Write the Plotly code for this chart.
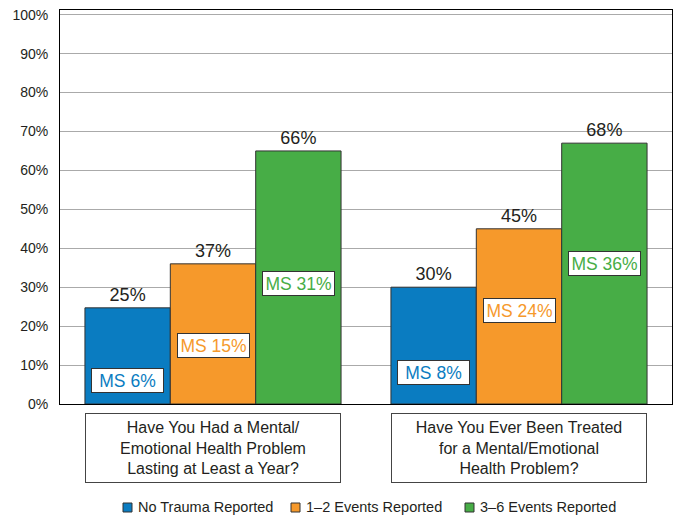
import plotly.graph_objects as go

categories = ["Have You Had a Mental/<br>Emotional Health Problem<br>Lasting at Least a Year?",
              "Have You Ever Been Treated<br>for a Mental/Emotional<br>Health Problem?"]
series_names = ["No Trauma Reported", "1\u20132 Events Reported", "3\u20136 Events Reported"]
colors = ["#0A7CC1", "#F6992B", "#47AD46"]

no_trauma = [24.7, 30.0]
events_1_2 = [36.0, 45.0]
events_3_6 = [65.0, 67.0]
values = [no_trauma, events_1_2, events_3_6]

labels_no_trauma = ["25%", "30%"]
labels_1_2 = ["37%", "45%"]
labels_3_6 = ["66%", "68%"]
labels = [labels_no_trauma, labels_1_2, labels_3_6]

ms_no_trauma = [6, 8]
ms_1_2 = [15, 24]
ms_3_6 = [31, 36]
ms_values = [ms_no_trauma, ms_1_2, ms_3_6]

y_ticks = list(range(0, 101, 10))
y_tick_text = [f"{v}%" for v in y_ticks]

FONT = "Liberation Sans, Arial, sans-serif"
TXT = "#231F20"

fig = go.Figure()
for i in range(3):
    fig.add_trace(go.Bar(
        x=categories, y=values[i], name=series_names[i],
        marker=dict(color=colors[i], line=dict(color="#333333", width=1)),
        text=labels[i], textposition="outside", cliponaxis=False,
        textfont=dict(family=FONT, size=18, color=TXT),
        showlegend=False, hoverinfo="skip",
    ))

annotations = []
shapes = []
bar_px = 612 / 2 * (1 - 0.163) / 3
for i in range(3):
    for j, cat in enumerate(categories):
        annotations.append(dict(
            x=cat, y=ms_values[i][j], xref="x", yref="y",
            xshift=(i - 1) * bar_px,
            text=f"MS {ms_values[i][j]}%", showarrow=False,
            font=dict(family=FONT, size=17.5, color=colors[i]),
            bgcolor="white", bordercolor="#333333", borderwidth=1, borderpad=0,
            width=71, height=23, yanchor="middle",
        ))

for cat in categories:
    annotations.append(dict(
        x=cat, y=-(448 - 404) / 394, xref="x", yref="paper",
        text=cat, showarrow=False,
        font=dict(family=FONT, size=16, color=TXT),
        bgcolor="white", bordercolor="#444444", borderwidth=1, borderpad=0,
        width=254, height=68, yanchor="middle", align="center",
    ))

# custom legend
leg_sq_x = [123, 291, 465]
leg_y = (404 - 507.5) / 394
for i in range(3):
    x0 = (leg_sq_x[i] - 60) / 612
    x1 = (leg_sq_x[i] + 9 - 60) / 612
    shapes.append(dict(type="rect", xref="paper", yref="paper",
                       x0=x0, x1=x1, y0=(404 - 503) / 394, y1=(404 - 512) / 394,
                       fillcolor=colors[i], line=dict(color="#333333", width=1)))
    annotations.append(dict(
        x=(leg_sq_x[i] + 13 - 60) / 612, y=leg_y, xref="paper", yref="paper",
        text=series_names[i], showarrow=False, xanchor="left", yanchor="middle",
        font=dict(family=FONT, size=14.5, color=TXT),
    ))

fig.update_layout(
    width=676, height=516,
    margin=dict(l=60, r=4, t=10, b=112),
    paper_bgcolor="white", plot_bgcolor="white",
    barmode="group", bargap=0.163, bargroupgap=0,
    font=dict(family=FONT, color=TXT),
    annotations=annotations, shapes=shapes,
    xaxis=dict(showticklabels=False, ticks="", showline=True, linecolor="black",
               linewidth=1, mirror=True, showgrid=False, range=[-0.5, 1.5]),
    yaxis=dict(range=[0, 101.2], tickmode="array", tickvals=y_ticks, ticktext=y_tick_text,
               tickfont=dict(family=FONT, size=14, color=TXT),
               showgrid=True, gridcolor="#AAAAAA", gridwidth=1,
               showline=True, linecolor="black", linewidth=1, mirror=True,
               ticks="outside", ticklen=8, tickcolor="rgba(0,0,0,0)", zeroline=False),
)

fig.write_html("out.html", config={"displayModeBar": False},
               post_script="document.body.style.margin='0';document.body.style.overflow='hidden';")
